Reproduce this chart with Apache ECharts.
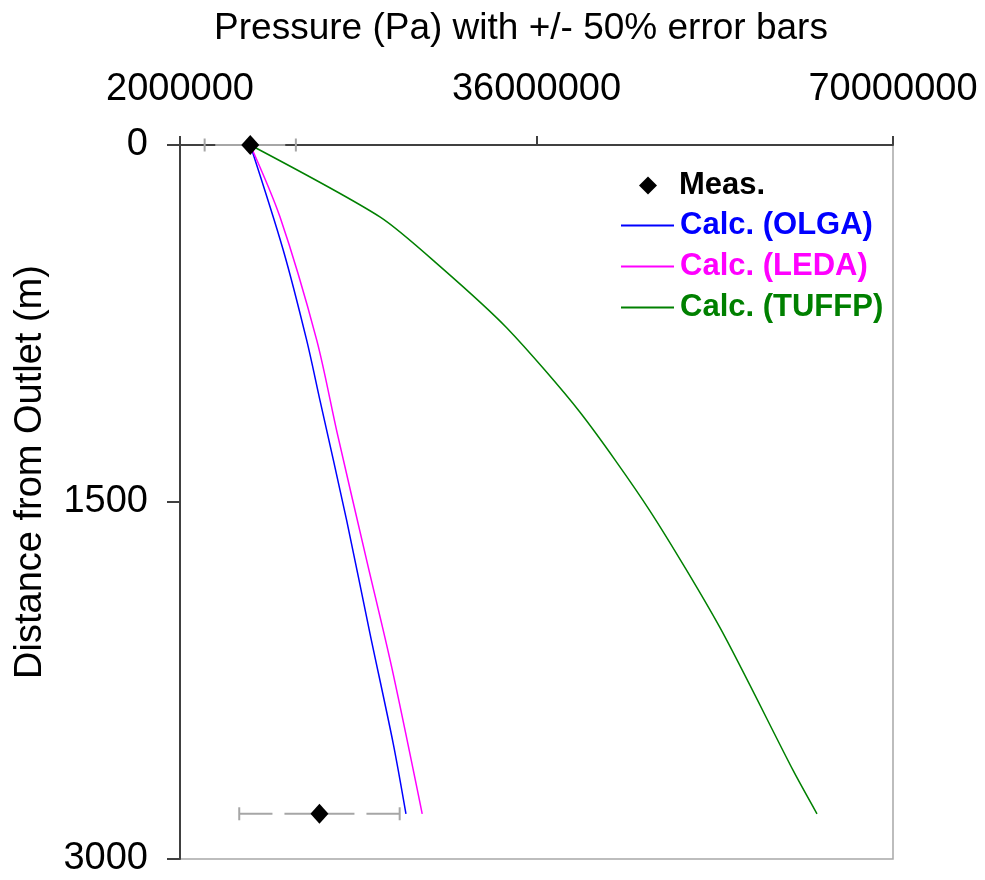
<!DOCTYPE html>
<html>
<head>
<meta charset="utf-8">
<script src="https://cdn.jsdelivr.net/npm/echarts@6/dist/echarts.min.js"></script>
<style>
  html, body { margin: 0; padding: 0; background: #ffffff; }
  #chart { width: 985px; height: 880px; }
</style>
</head>
<body>
<div id="chart"></div>
<script>
// Axis ticks
const pressureTicks = [2000000, 36000000, 70000000];
const depthTicks = [0, 1500, 3000];

// Measured pressure (Pa) at distance from outlet (m), with +/- 50% error bars
const measPressure = [8700000, 15300000];
const measDepth = [0, 2810];
const errorFraction = 0.5;

// Calculated profiles
const olgaPressure = [8700000, 11850000, 14080000, 15350000, 17900000, 20120000, 22340000, 23550000];
const olgaDepth    = [0, 442, 820, 1073, 1578, 2053, 2516, 2810];

const ledaPressure = [8700000, 11540000, 15040000, 17000000, 19810000, 22200000, 25100000];
const ledaDepth    = [0, 303, 820, 1212, 1746, 2196, 2810];

const tuffpPressure = [8700000, 21100000, 26800000, 33200000, 40150000, 46800000, 53500000, 60500000, 62750000];
const tuffpDepth    = [0, 303, 510, 770, 1123, 1536, 2028, 2630, 2810];

const FONT = '"Liberation Sans", Arial, sans-serif';

function pairs(xs, ys) { return xs.map((x, i) => [x, ys[i]]); }

const chart = echarts.init(document.getElementById('chart'), null, { renderer: 'canvas' });

const axisLineStyle = { color: '#404040', width: 2 };

function profile(name, xs, ys, color, smooth) {
  return {
    name: name,
    type: 'line',
    data: pairs(xs, ys),
    symbol: 'none',
    smooth: smooth,
    lineStyle: { color: color, width: 1.5 },
    itemStyle: { color: color },
    clip: false,
    z: 3
  };
}

chart.setOption({
  animation: false,
  backgroundColor: '#ffffff',
  grid: {
    left: 180, right: 92, top: 145, bottom: 21,
    outerBoundsMode: 'none',
    show: true,
    borderColor: '#a8a8a8',
    borderWidth: 1.5
  },
  xAxis: {
    type: 'value',
    position: 'top',
    min: 2000000,
    max: 70000000,
    interval: 34000000,
    name: 'Pressure (Pa) with +/- 50% error bars',
    nameLocation: 'middle',
    nameGap: 98,
    nameTextStyle: { fontFamily: FONT, fontSize: 37, color: '#000', padding: [0, 31, 0, 0] },
    axisLine: { show: true, lineStyle: axisLineStyle },
    axisTick: { show: true, inside: false, length: 9, lineStyle: axisLineStyle, customValues: pressureTicks },
    axisLabel: {
      show: true, margin: 36, fontFamily: FONT, fontSize: 38, color: '#000',
      customValues: pressureTicks,
      formatter: v => String(v)
    },
    splitLine: { show: false }
  },
  yAxis: {
    type: 'value',
    inverse: true,
    min: 0,
    max: 3000,
    interval: 1500,
    name: 'Distance from Outlet (m)',
    nameLocation: 'middle',
    nameGap: 130,
    nameRotate: 90,
    nameTextStyle: { fontFamily: FONT, fontSize: 38, color: '#000', padding: [0, 0, 0, 60] },
    axisLine: { show: true, lineStyle: axisLineStyle },
    axisTick: { show: true, inside: false, length: 13, lineStyle: axisLineStyle, customValues: depthTicks },
    axisLabel: {
      show: true, margin: 32, fontFamily: FONT, fontSize: 38, color: '#000',
      customValues: depthTicks,
      formatter: v => String(v)
    },
    splitLine: { show: false }
  },
  legend: [
    {
      data: [{ name: 'Meas.', icon: 'diamond', textStyle: { color: '#000' } }],
      left: 634, top: 165,
      itemWidth: 18, itemHeight: 18,
      itemStyle: { color: '#000', opacity: 1 },
      textStyle: { fontFamily: FONT, fontSize: 31, fontWeight: 'bold', lineHeight: 30, padding: [0, 0, 0, 17] },
      selectedMode: false
    },
    {
      orient: 'vertical',
      data: [
        { name: 'Calc. (OLGA)',  textStyle: { color: '#0000ff' } },
        { name: 'Calc. (LEDA)',  textStyle: { color: '#ff00ff' } },
        { name: 'Calc. (TUFFP)', textStyle: { color: '#008000' } }
      ],
      left: 615, top: 205,
      itemWidth: 53, itemHeight: 2, itemGap: 10,
      itemStyle: { opacity: 0 },
      textStyle: { fontFamily: FONT, fontSize: 31, fontWeight: 'bold', lineHeight: 30, padding: [0, 0, 0, 1] },
      selectedMode: false
    }
  ],
  series: [
    profile('Calc. (OLGA)', olgaPressure, olgaDepth, '#0000ff', 0.3),
    profile('Calc. (LEDA)', ledaPressure, ledaDepth, '#ff00ff', 0.3),
    profile('Calc. (TUFFP)', tuffpPressure, tuffpDepth, '#008000', 0.25),
    {
      name: 'errorBars',
      type: 'custom',
      clip: false,
      z: 4,
      data: measPressure.map((p, i) => [p, measDepth[i], p * (1 - errorFraction), p * (1 + errorFraction)]),
      renderItem(params, api) {
        const c = api.coord([api.value(0), api.value(1)]);
        const lo = api.coord([api.value(2), api.value(1)]);
        const hi = api.coord([api.value(3), api.value(1)]);
        const h = 6.5;
        const solid = { stroke: '#a6a6a6', lineWidth: 2 };
        const dashed = { stroke: '#a6a6a6', lineWidth: 2, lineDash: [35, 12] };
        return {
          type: 'group',
          children: [
            { type: 'line', shape: { x1: c[0], y1: c[1], x2: lo[0], y2: lo[1] }, style: dashed },
            { type: 'line', shape: { x1: c[0], y1: c[1], x2: hi[0], y2: hi[1] }, style: dashed },
            { type: 'line', shape: { x1: lo[0], y1: c[1] - h, x2: lo[0], y2: c[1] + h }, style: solid },
            { type: 'line', shape: { x1: hi[0], y1: c[1] - h, x2: hi[0], y2: c[1] + h }, style: solid }
          ]
        };
      }
    },
    {
      name: 'Meas.',
      type: 'scatter',
      data: pairs(measPressure, measDepth),
      symbol: 'diamond',
      symbolSize: [18, 20],
      itemStyle: { color: '#000000', opacity: 1 },
      clip: false,
      z: 5
    }
  ]
});
</script>
</body>
</html>
